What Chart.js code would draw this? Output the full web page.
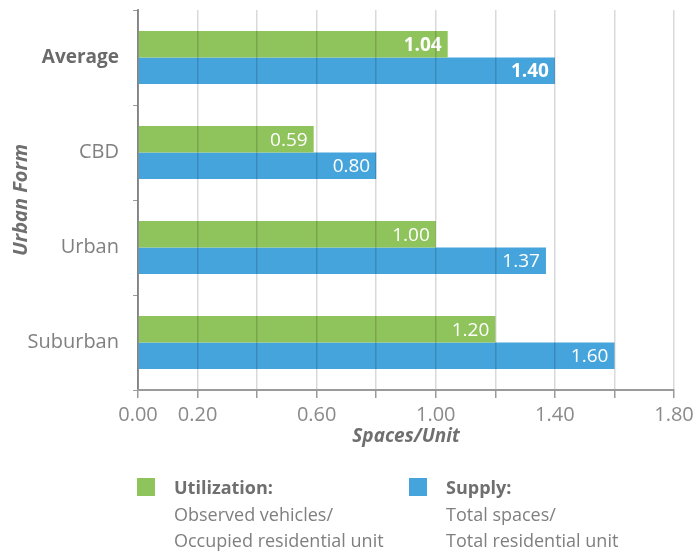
<!DOCTYPE html>
<html>
<head>
<meta charset="utf-8">
<script src="https://cdn.jsdelivr.net/npm/chart.js@4/dist/chart.umd.min.js"></script>
<style>
    body { margin: 0; background: #fff; overflow: hidden; }
    #wrap { position: relative; width: 696px; height: 552px; }
    #barChart { display: block; }
    #legend { position: absolute; left: 0; top: 0; width: 696px; height: 552px; pointer-events: none;
              font-family: 'Open Sans', sans-serif; font-size: 18px; color: #7f7f7f; line-height: 26.5px; }
    .item { position: absolute; top: 474px; }
    .swatch { position: absolute; width: 18px; height: 18px; top: 4px; left: 0; }
    .text { position: absolute; top: 0; white-space: nowrap; }
    .text b { color: #6f6f6f; }
</style>
</head>
<body>
<div id="wrap">
    <canvas id="barChart" width="696" height="552"></canvas>
    <div id="legend"></div>
</div>
<script>
// Data
const categories = ['Average', 'CBD', 'Urban', 'Suburban'];
const utilization = [1.04, 0.59, 1.00, 1.20];
const supply = [1.40, 0.80, 1.37, 1.60];
const shownTicks = ['0.00', '0.20', '0.60', '1.00', '1.40', '1.80'];

const seriesNames = ['Utilization:', 'Supply:'];
const seriesNotes = [
    ['Observed vehicles/', 'Occupied residential unit'],
    ['Total spaces/', 'Total residential unit']
];
const colors = ['#8fc35b', '#45a4dc'];

const FONT = "'Open Sans', sans-serif";

// white value labels inside the bar ends
const valueLabels = {
    id: 'valueLabels',
    afterDatasetsDraw(chart) {
        const ctx = chart.ctx;
        ctx.save();
        ctx.fillStyle = '#ffffff';
        ctx.textAlign = 'right';
        ctx.textBaseline = 'middle';
        chart.data.datasets.forEach((ds, di) => {
            chart.getDatasetMeta(di).data.forEach((bar, i) => {
                ctx.font = (i === 0 ? 'bold ' : '') + '19px ' + FONT;
                ctx.fillText(ds.data[i].toFixed(2), bar.x - 6, bar.y + 1);
            });
        });
        ctx.restore();
    }
};

const chart = new Chart(document.getElementById('barChart'), {
    type: 'bar',
    data: {
        labels: categories,
        datasets: [
            { label: seriesNames[0], data: utilization, backgroundColor: colors[0] },
            { label: seriesNames[1], data: supply, backgroundColor: colors[1] }
        ]
    },
    options: {
        indexAxis: 'y',
        responsive: false,
        animation: false,
        categoryPercentage: 0.556,
        barPercentage: 1,
        layout: { padding: { left: 0, right: 22, top: 10, bottom: 100 } },
        plugins: {
            legend: { display: false },
            tooltip: { enabled: false }
        },
        scales: {
            x: {
                min: 0,
                max: 1.8,
                ticks: {
                    stepSize: 0.2,
                    padding: 5,
                    color: '#8a8a8a',
                    font: { family: FONT, size: 20 },
                    autoSkip: false,
                    maxRotation: 0,
                    callback: function(value) {
                        const s = Number(value).toFixed(2);
                        return shownTicks.includes(s) ? s : '';
                    }
                },
                grid: {
                    color: 'rgba(0,0,0,0.15)',
                    lineWidth: 1.5,
                    tickColor: '#9a9a9a',
                    tickLength: 8,
                    z: 1
                },
                // same z as the grid so the border is drawn after the grid items are computed
                border: { color: '#9a9a9a', width: 2, z: 1 },
                title: {
                    display: true,
                    text: 'Spaces/Unit',
                    color: '#6f6f6f',
                    font: { family: FONT, size: 19, weight: 'bold', style: 'italic' },
                    padding: { top: 2, bottom: 4 }
                },
                afterFit: function(scale) {
                    scale.height = 62;
                    scale.paddingLeft = 0;
                    scale.paddingRight = 0;
                }
            },
            y: {
                ticks: {
                    padding: 14,
                    color: function(c) { return c.index === 0 ? '#6a6a6a' : '#808080'; },
                    font: function(c) {
                        return c.index === 0
                            ? { family: FONT, size: 19, weight: 'bold' }
                            : { family: FONT, size: 20, weight: 'normal' };
                    }
                },
                grid: {
                    drawOnChartArea: false,
                    offset: true,
                    tickColor: '#9a9a9a',
                    tickLength: 5
                },
                border: { color: '#9a9a9a', width: 2 },
                title: {
                    display: true,
                    text: 'Urban Form',
                    color: '#6f6f6f',
                    font: { family: FONT, size: 20, weight: 'bold', style: 'italic' },
                    padding: { top: 9, bottom: 0 }
                },
                afterFit: function(scale) {
                    scale.width = 138;
                    scale.paddingTop = 0;
                    scale.paddingBottom = 0;
                }
            }
        }
    },
    plugins: [valueLabels]
});

// Legend
const legendEl = document.getElementById('legend');
const legendX = [137, 409];
seriesNames.forEach((name, i) => {
    const item = document.createElement('div');
    item.className = 'item';
    item.style.left = legendX[i] + 'px';
    const sw = document.createElement('div');
    sw.className = 'swatch';
    sw.style.background = colors[i];
    item.appendChild(sw);
    const txt = document.createElement('div');
    txt.className = 'text';
    txt.style.left = '37px';
    txt.innerHTML = '<b>' + name + '</b><br>' + seriesNotes[i].join('<br>');
    item.appendChild(txt);
    legendEl.appendChild(item);
});
</script>
</body>
</html>
